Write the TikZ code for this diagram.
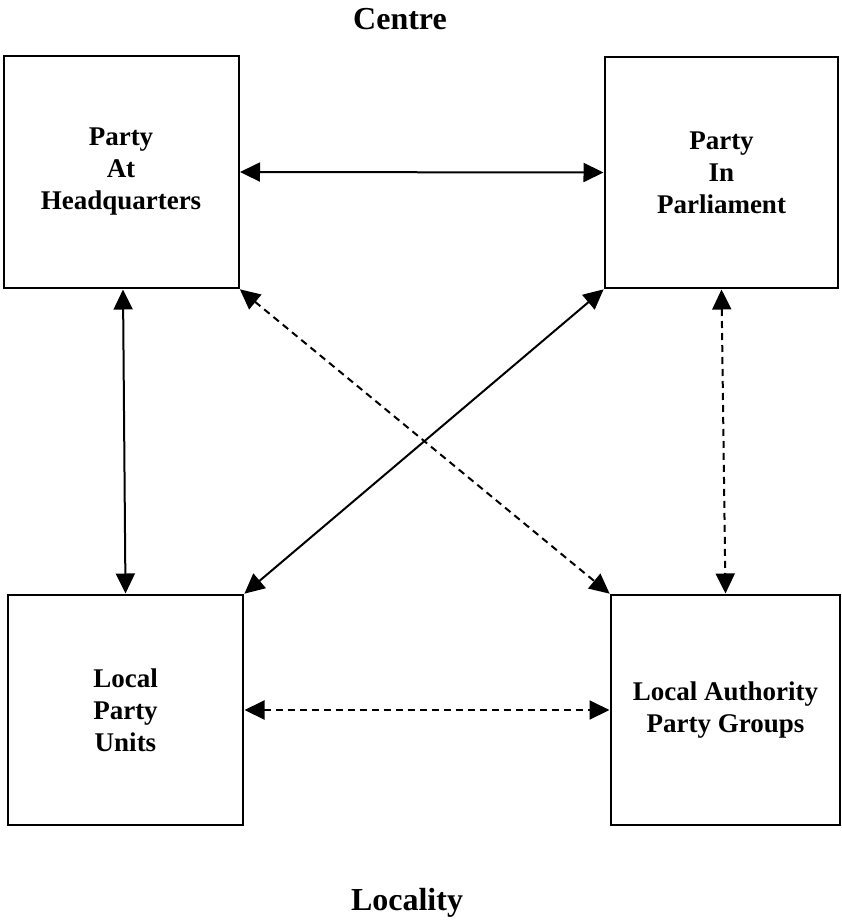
\documentclass[tikz,border=0pt]{standalone}
\usepackage{fontspec}
\setmainfont{Liberation Serif}
\usetikzlibrary{arrows.meta}

\begin{document}
\begin{tikzpicture}[x=1pt, y=-1pt, line width=2pt,
				   >={Triangle[length=20pt, width=19pt]},
				   every node/.style={font=\fontsize{27}{32}\selectfont\bfseries, align=center},
				   level/.style={font=\fontsize{32}{38}\selectfont\bfseries},
				   unit/.style={draw=black, inner sep=0pt},
				   link/.style={<->, shorten <=0.5pt, shorten >=0.5pt},
				   loose/.style={link, dash pattern=on 7pt off 5pt}]
\useasboundingbox (0,0) rectangle (842,922);
\node[level] (centre) at (400,19) {Centre};
\node[unit, minimum width=235pt, minimum height=232pt] (hq) at (121,172) {Party\\At\\Headquarters};
\node[unit, minimum width=233pt, minimum height=231pt] (parl) at (721.5,172.5) {Party\\In\\Parliament};
\node[unit, minimum width=235pt, minimum height=230pt] (lpu) at (125.5,710) {Local\\Party\\Units};
\node[unit, minimum width=229pt, minimum height=230pt] (lapg) at (725.5,710) {Local Authority\\Party Groups};
\node[level] (locality) at (407,903) {Locality};

\draw[link] (hq.east) -- (parl.west);
\draw[link] ([xshift=2pt]hq.south) -- (lpu.north);
\draw[link] (parl.south west) -- (lpu.north east);
\draw[loose] (hq.south east) -- (lapg.north west);
\draw[loose] (parl.south) -- (lapg.north);
\draw[loose] (lpu.east) -- (lapg.west);
\end{tikzpicture}
\end{document}
